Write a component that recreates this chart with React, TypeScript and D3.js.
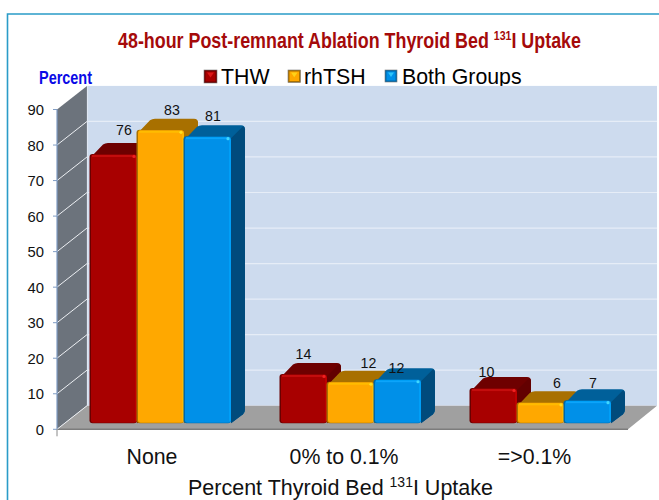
import React from "react";
import * as d3 from "d3";

const categories = ["None", "0% to 0.1%", "=>0.1%"];
const seriesNames = ["THW", "rhTSH", "Both Groups"];
const thw = [75.8, 13.9, 9.9];
const rhTSH = [82.6, 11.7, 5.9];
const bothGroups = [80.8, 12.4, 6.5];
const yTicks = [0, 10, 20, 30, 40, 50, 60, 70, 80, 90];
const labelNudgeX = [[10.5, 0, -7], [11.5, 18, 16.5], [5.5, -1, 5.5]];
const labelNudgeY = [[-19, -15, -11], [-15, -14, -14], [-15, -6, -12]];
const categoryNudgeX = [-8, -6, -5.5];

const W = 659, H = 500;
const y = d3.scaleLinear().domain([0, 90]).range([429.3, 109.5]);
const group = d3.scaleBand<string>().domain(categories).range([65, 635]).paddingInner(0).paddingOuter(0);
const inner = d3.scaleBand<string>().domain(seriesNames).range([25, 166]);
const deep = { dx: 30, dy: -23.6 };
const barShift = { dx: 7.5, dy: -6 };
const barDepth = { dx: 14, dy: -11 };

const palette = [
  { front: "#a80000", top: "#6e0000", side: "#640000", hi: "#c40808", spot: "#f02020", edge: "#6a0000" },
  { front: "#ffa800", top: "#a87000", side: "#a87000", hi: "#ffbc00", spot: "#ffe020", edge: "#a87000" },
  { front: "#0090e8", top: "#00609a", side: "#004c7c", hi: "#08a4fa", spot: "#40d8ff", edge: "#0068a8" },
];
const allSeries = [thw, rhTSH, bothGroups];
const sans = "'Liberation Sans', Arial, sans-serif";

function Bar({ x, w, yTop, yBase, c }: any) {
  const d = barDepth;
  const r = 4;
  const xb = x + d.dx, yb = yTop + d.dy;
  const body = `M${x + 2},${yTop + 2} L${xb - 1},${yb + 1.5} Q${xb + 1},${yb} ${xb + 4},${yb} L${xb + w - r},${yb} Q${xb + w},${yb} ${xb + w},${yb + r} L${xb + w},${yBase + d.dy - 3} Q${xb + w},${yBase + d.dy} ${xb + w - 2},${yBase + d.dy + 2} L${x + w},${yBase} L${x + w},${yTop + 2} Z`;
  const side = `M${x + w},${yTop + 2} L${xb + w - 2},${yb + 1} Q${xb + w},${yb + 2} ${xb + w},${yb + r} L${xb + w},${yBase + d.dy - 3} Q${xb + w},${yBase + d.dy} ${xb + w - 2},${yBase + d.dy + 2} L${x + w},${yBase} Z`;
  return (
    <g>
      <path d={body} fill={c.top} />
      <path d={side} fill={c.side} />
      <rect x={x - 0.5} y={yTop} width={w + 0.5} height={yBase - yTop} rx={3} fill={c.edge} />
      <rect x={x + 1} y={yTop + 0.5} width={w - 1} height={yBase - yTop - 1} rx={2.5} fill={c.front} />
      <rect x={x + w - 1.8} y={yTop + 3} width={1.6} height={yBase - yTop - 5} fill={c.hi} />
      <rect x={x + 2} y={yTop + 1} width={w - 4} height={2} fill={c.hi} />
      <circle cx={x + w - 3} cy={yTop + 2.5} r={1.6} fill={c.spot} />
    </g>
  );
}

function Swatch({ x, yy, s, c }: any) {
  return (
    <g>
      <rect x={x} y={yy} width={s} height={s} fill={c.edge} stroke="#777" strokeWidth={0.6} />
      <rect x={x + 1.5} y={yy + 1.5} width={s - 3} height={s - 3} fill={c.front} />
      <path d={`M${x + 3},${yy + 2.5} L${x + s - 3},${yy + 2.5} L${x + s / 2},${yy + s / 2 + 1} Z`} fill={c.spot} opacity={0.75} />
    </g>
  );
}

export default function App() {
  const x0 = 57, y0 = y(0), yMax = y(90);
  const xEnd = 628;
  const floor = `M${x0},${y0} L${xEnd},${y0} L${xEnd + deep.dx - 1},${y0 + deep.dy} L${x0 + deep.dx},${y0 + deep.dy} Z`;
  const leftWall = `M${x0},${y0} L${x0},${yMax} L${x0 + deep.dx},${yMax + deep.dy} L${x0 + deep.dx},${y0 + deep.dy} Z`;
  const barW = inner.bandwidth();
  const base = y0 + barShift.dy;

  return (
    <svg width={W} height={H} style={{ position: "absolute", left: 0, top: 0 }} fontFamily={sans}>
      <defs>
        <filter id="soft" x="-5%" y="-5%" width="110%" height="110%">
          <feGaussianBlur stdDeviation="0.45" />
        </filter>
      </defs>
      <rect width={W} height={H} fill="#fff" />
      <path d={`M7.5,${H} L7.5,14 L${W},14`} fill="none" stroke="#2a9cc8" strokeWidth={1.6} />

      <text x={349.5} y={48} textAnchor="middle" fontSize={22} fontWeight="bold" fill="#a50a0a" textLength={463} lengthAdjust="spacingAndGlyphs">
        48-hour Post-remnant Ablation Thyroid Bed <tspan fontSize={13} dy={-8}>131</tspan><tspan dy={8}>I Uptake</tspan>
      </text>

      <text x={39} y={84} fontSize={18.5} fontWeight="bold" fill="#0a0ae6" textLength={53} lengthAdjust="spacingAndGlyphs">Percent</text>

      <Swatch x={204} yy={70} s={13} c={palette[0]} />
      <text x={221} y={84} fontSize={21.3} fill="#000">{seriesNames[0]}</text>
      <Swatch x={288} yy={70} s={12.5} c={palette[1]} />
      <text x={304} y={84} fontSize={21.3} fill="#000">{seriesNames[1]}</text>
      <Swatch x={385} yy={70} s={12} c={palette[2]} />
      <text x={402} y={84} fontSize={21.3} fill="#000">{seriesNames[2]}</text>

      <rect x={x0 + deep.dx} y={yMax + deep.dy} width={xEnd + deep.dx - 1 - x0 - deep.dx} height={y0 - yMax} fill="#cddbee" />
      <path d={leftWall} fill="#6c737c" />
      <path d={floor} fill="#a0a0a0" />
      <line x1={x0} x2={xEnd} y1={y0} y2={y0} stroke="#7c7c7c" strokeWidth={1.5} />
      {yTicks.map((t) => (
        <g key={t}>
          {t > 0 && t < 90 && <line x1={x0 + deep.dx} x2={xEnd + deep.dx - 1} y1={y(t) + deep.dy} y2={y(t) + deep.dy} stroke="#e6edf7" strokeWidth={1.2} />}
          {t < 90 && <line x1={x0} x2={x0 + deep.dx} y1={y(t)} y2={y(t) + deep.dy} stroke="#eceff3" strokeWidth={1} />}
          <line x1={x0 - 4} x2={x0} y1={y(t)} y2={y(t)} stroke="#7f9cc4" strokeWidth={1} />
          <text x={44} y={y(t) + 5.5} textAnchor="end" fontSize={14.8} fill="#111">{t}</text>
        </g>
      ))}
      <line x1={x0} x2={x0} y1={yMax} y2={y0} stroke="#7f9cc4" strokeWidth={1.2} />
      <line x1={x0} x2={x0} y1={y0} y2={y0 + 7} stroke="#888" strokeWidth={1} />
      <line x1={x0 + deep.dx + 0.5} x2={x0 + deep.dx + 0.5} y1={yMax + deep.dy} y2={y0 + deep.dy} stroke="#dfe7f3" strokeWidth={1.2} />

      <g filter="url(#soft)">
        {categories.map((cat, i) => (
          <g key={cat}>
            {seriesNames.map((sn, s) => {
              const v = allSeries[s][i];
              const bx = (group(cat) as number) + (inner(sn) as number);
              return <Bar key={sn} x={bx} w={barW} yTop={y(v) + barShift.dy} yBase={base} c={palette[s]} />;
            })}
          </g>
        ))}
      </g>
      {categories.map((cat, i) =>
        seriesNames.map((sn, s) => {
          const v = allSeries[s][i];
          const bx = (group(cat) as number) + (inner(sn) as number) + barW / 2;
          return (
            <text key={cat + sn} x={bx + labelNudgeX[s][i]} y={y(v) + barShift.dy + labelNudgeY[s][i]} textAnchor="middle" fontSize={14.2} fill="#111">
              {Math.round(v)}
            </text>
          );
        })
      )}

      {categories.map((cat, i) => (
        <text key={cat} x={(group(cat) as number) + group.bandwidth() / 2 + categoryNudgeX[i]} y={464} textAnchor="middle" fontSize={21.3} fill="#111">{cat}</text>
      ))}

      <text x={340.5} y={495} textAnchor="middle" fontSize={21.5} fill="#111">
        Percent Thyroid Bed <tspan fontSize={14} dy={-8}>131</tspan><tspan dy={8}>I Uptake</tspan>
      </text>
    </svg>
  );
}
